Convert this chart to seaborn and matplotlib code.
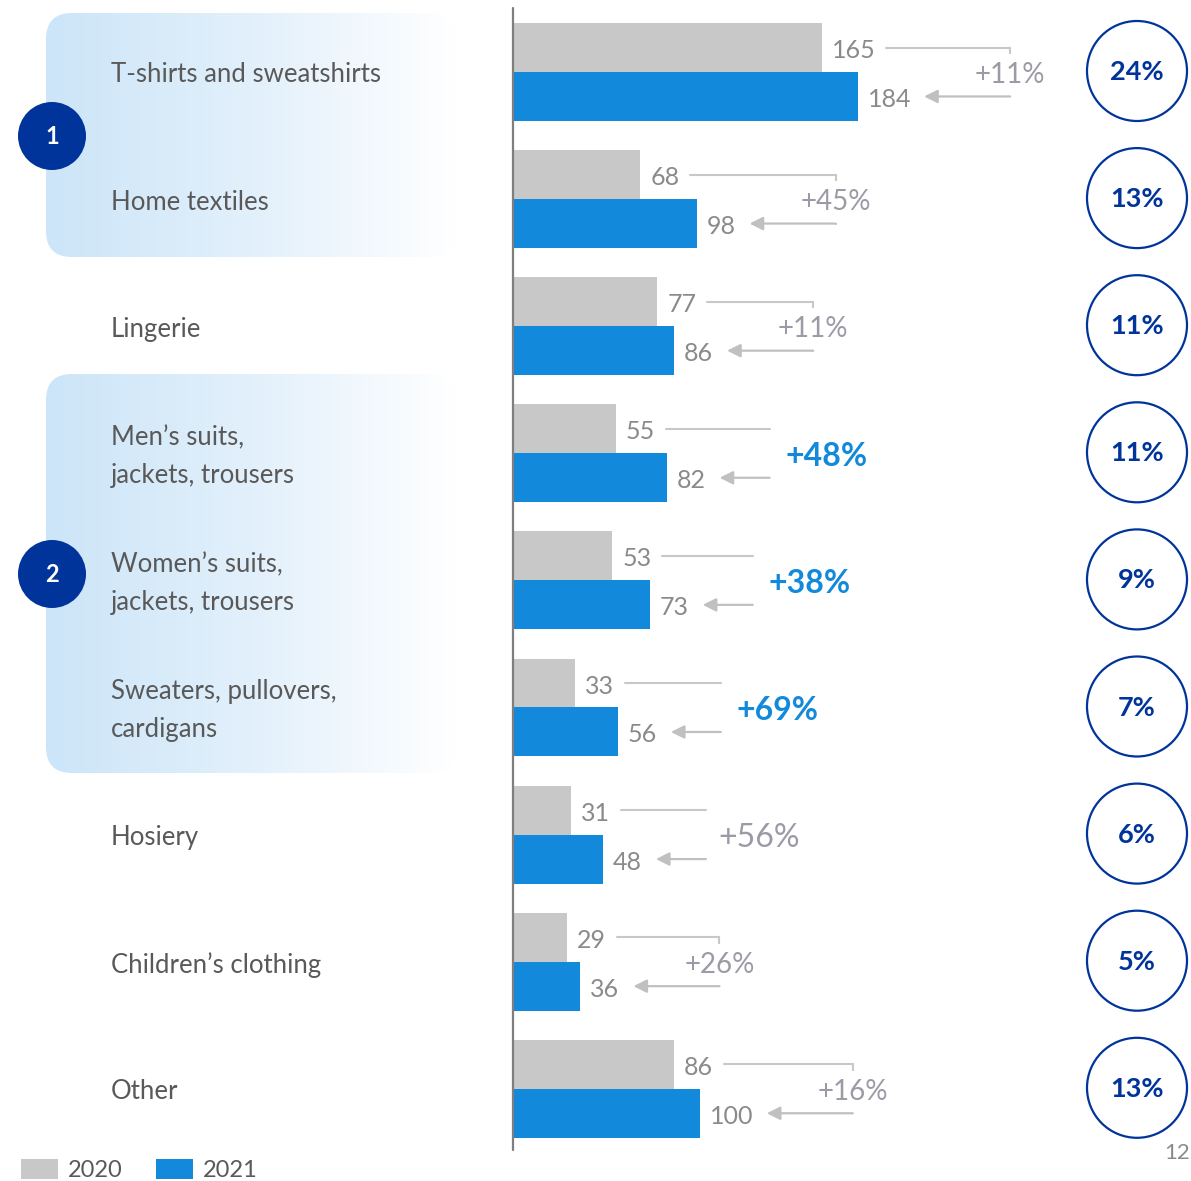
import numpy as np
import pandas as pd
import seaborn as sns
import matplotlib.pyplot as plt
from matplotlib.patches import FancyBboxPatch, Circle
from matplotlib.colors import LinearSegmentedColormap

# data
categories = ["T-shirts and sweatshirts", "Home textiles", "Lingerie",
              "Men\u2019s suits,\njackets, trousers", "Women\u2019s suits,\njackets, trousers",
              "Sweaters, pullovers,\ncardigans", "Hosiery", "Children\u2019s clothing", "Other"]
sales_2020 = [165, 68, 77, 55, 53, 33, 31, 29, 86]
sales_2021 = [184, 98, 86, 82, 73, 56, 48, 36, 100]
growth = ["+11%", "+45%", "+11%", "+48%", "+38%", "+69%", "+56%", "+26%", "+16%"]
share = ["24%", "13%", "11%", "11%", "9%", "7%", "6%", "5%", "13%"]
years = ["2020", "2021"]

# rows whose growth label is highlighted
bold_rows = [3, 4, 5]
big_rows = [6]

GRAY = "#c8c8c8"
BLUE = "#1289db"
NAVY = "#00349b"
TXT = "#595959"
VAL = "#8a8a8a"
PCT = "#9d9aa6"

sns.set_style("white")
plt.rcParams["font.family"] = ["Lato", "DejaVu Sans"]

W, H = 1191, 1181
S = 1.873      # px per unit of sales
P = 127.1      # px per row
X0, Y0 = 513, 72

fig = plt.figure(figsize=(W / 100, H / 100), dpi=100)

# background / decoration layer in pixel coordinates
bg = fig.add_axes([0, 0, 1, 1], zorder=0)
bg.axis("off")

cmap = LinearSegmentedColormap.from_list("fade", ["#cce5f8", "#e2f0fb", "#ffffff"])
grad = np.linspace(0, 1, 256).reshape(1, -1)
for (top, bot) in [(13, 257), (374, 773)]:
    box = FancyBboxPatch((46, top), 410, bot - top, boxstyle="round,pad=0,rounding_size=26",
                         facecolor="none", edgecolor="none")
    bg.add_patch(box)
    im = bg.imshow(grad, cmap=cmap, extent=(46, 456, bot, top), aspect="auto", zorder=0)
    im.set_clip_path(box)

for (cy, num) in [(136, "1"), (574, "2")]:
    bg.add_patch(Circle((52, cy), 34, facecolor=NAVY, edgecolor="none", zorder=2))
    bg.text(52, cy + 1, num, color="white", fontsize=17, fontweight="bold",
            ha="center", va="center", zorder=3)

for i, cat in enumerate(categories):
    cy = Y0 + P * i
    bg.text(111, cy + 3, cat, color=TXT, fontsize=18.5, ha="left", va="center", linespacing=1.62)
    bg.add_patch(Circle((1137, cy - 1), 50, facecolor="white", edgecolor=NAVY, lw=1.6, zorder=2))
    bg.text(1137, cy, share[i], color=NAVY, fontsize=19.5, fontweight="bold",
            ha="center", va="center", zorder=3)

bg.text(W - 1, 1153, "12", color="#8a8a8a", fontsize=16, ha="right", va="center")
bg.set_xlim(0, W)
bg.set_ylim(H, 0)

# bar layer
df = pd.DataFrame({
    "category": categories * 2,
    "year": [years[0]] * len(categories) + [years[1]] * len(categories),
    "sales": sales_2020 + sales_2021,
})

ax = fig.add_axes([0, 0, 1, 1], zorder=1)
ax.patch.set_alpha(0)
sns.barplot(data=df, y="category", x="sales", hue="year", hue_order=years,
            palette=[GRAY, BLUE], width=0.77, errorbar=None, linewidth=0,
            saturation=1, ax=ax, orient="h")

ax.set_xlim(-X0 / S, (W - X0) / S)
ax.set_ylim((H - Y0) / P, -Y0 / P)
ax.axis("off")
ax.plot([0, 0], [(8 - Y0) / P, (1150 - Y0) / P], color="#7f7f7f", lw=1.6, zorder=5)

off = 0.77 / 4
dy = 3 / P
digit = 13.5
for i in range(len(categories)):
    v0, v1 = sales_2020[i], sales_2021[i]
    yt, yb = i - off, i + off
    ax.text(v0 + 10 / S, yt + dy, str(v0), color=VAL, fontsize=18, ha="left", va="center")
    ax.text(v1 + 10 / S, yb + dy, str(v1), color=VAL, fontsize=18, ha="left", va="center")
    end0 = v0 + (10 + digit * len(str(v0))) / S
    end1 = v1 + (10 + digit * len(str(v1))) / S
    start = end0 + 13 / S
    tip = end1 + 16 / S
    plain = i not in bold_rows and i not in big_rows
    xe = end1 + (102 if plain else 66) / S
    ax.plot([start, xe], [yt, yt], color=GRAY, lw=1.5, zorder=6)
    if plain:
        # vertical link, hidden behind the label except at the corners
        ax.plot([xe, xe], [yt, yb], color=GRAY, lw=1.5, zorder=2)
        ax.text(xe, i + dy, growth[i], color=PCT, fontsize=20, ha="center", va="center", zorder=4,
                bbox=dict(facecolor="white", edgecolor="none", pad=5.5))
    elif i in bold_rows:
        ax.text(xe + 16 / S, i + dy, growth[i], color=BLUE, fontsize=23, fontweight="bold",
                ha="left", va="center")
    else:
        ax.text(xe + 12 / S, i + dy, growth[i], color=PCT, fontsize=23, ha="left", va="center")
    ax.annotate("", xy=(tip, yb), xytext=(xe, yb), zorder=6,
                arrowprops=dict(arrowstyle="-|>", color="#c0c0c0", lw=1.6,
                                mutation_scale=20, shrinkA=0, shrinkB=0))

h, l = ax.get_legend_handles_labels()
ax.legend(h, l, loc="lower left", bbox_to_anchor=(21 / W, 0.0), bbox_transform=fig.transFigure,
          ncol=2, frameon=False, fontsize=17, labelcolor=TXT, handlelength=1.55,
          handleheight=0.9, handletextpad=0.45, columnspacing=1.4, borderpad=0,
          borderaxespad=0)

fig.savefig("out.png", dpi=100)
